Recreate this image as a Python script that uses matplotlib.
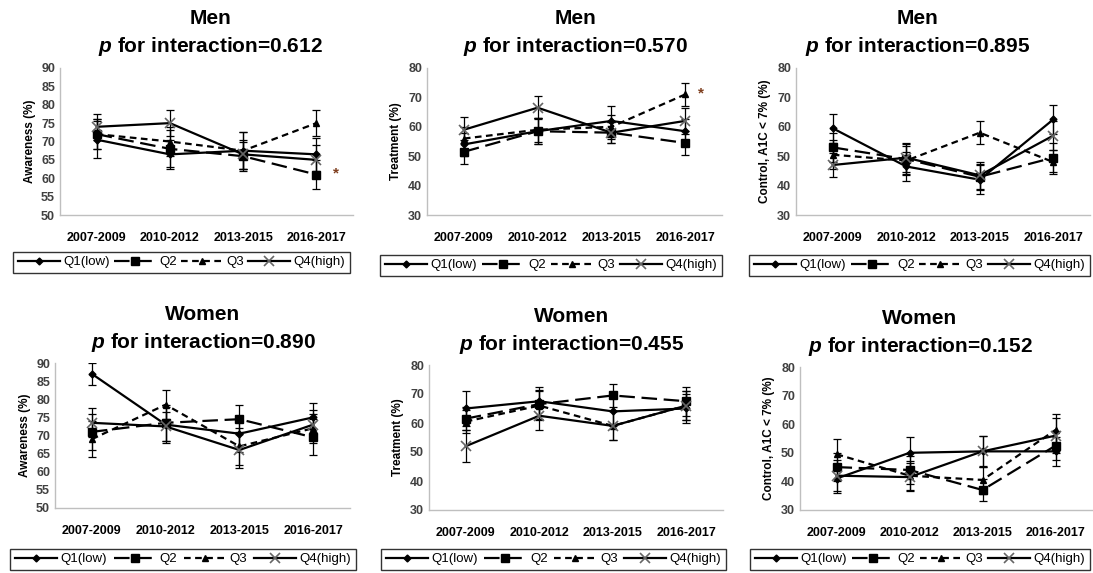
import matplotlib
matplotlib.use("Agg")
import matplotlib.pyplot as plt

plt.rcParams['font.family'] = ['Liberation Sans', 'DejaVu Sans']
plt.rcParams['mathtext.fontset'] = 'custom'
plt.rcParams['mathtext.it'] = 'Liberation Sans:italic:bold'
plt.rcParams['mathtext.rm'] = 'Liberation Sans:bold'

periods = ['2007-2009', '2010-2012', '2013-2015', '2016-2017']
groups = ['Q1(low)', 'Q2', 'Q3', 'Q4(high)']

# values, rows = Q1..Q4
men_aware = [[70.5, 66.5, 67.5, 66.5],
             [72.0, 68.0, 66.0, 61.0],
             [72.0, 70.0, 67.5, 75.0],
             [74.0, 75.0, 66.5, 65.0]]
men_aware_err = [[5, 4, 5, 4.5], [4, 5, 4, 4], [4, 4, 5, 3.5], [3.5, 3.5, 4, 4]]

men_treat = [[54.0, 58.5, 62.0, 58.5],
             [51.5, 58.5, 58.0, 54.5],
             [56.0, 59.0, 60.0, 71.0],
             [59.0, 66.5, 58.0, 62.0]]
men_treat_err = [[4, 4.5, 5, 4], [4, 4.5, 3.5, 4], [4, 4, 4, 4], [4.5, 4, 3.5, 4.5]]

men_ctrl = [[59.5, 46.5, 42.0, 62.5],
            [53.0, 49.0, 43.0, 49.5],
            [50.5, 48.5, 58.0, 48.0],
            [47.0, 49.5, 43.5, 57.0]]
men_ctrl_err = [[5, 5, 5, 5], [5, 5, 4.5, 5], [5, 5, 4, 4], [4, 5, 4.5, 5]]

women_aware = [[87.0, 73.0, 70.5, 75.0],
               [71.0, 73.5, 74.5, 69.5],
               [69.0, 78.5, 67.0, 72.0],
               [73.5, 72.5, 66.0, 73.0]]
women_aware_err = [[3, 5, 5, 4], [5, 5, 4, 5], [5, 4, 5, 4], [4, 4, 5, 4]]

women_treat = [[65.0, 67.5, 64.0, 65.0],
               [61.5, 66.5, 69.5, 67.5],
               [60.5, 66.0, 59.0, 66.0],
               [52.0, 62.5, 59.0, 66.0]]
women_treat_err = [[6, 5, 5, 5], [4, 5, 4, 5], [4, 5, 5, 5], [5.5, 5, 5, 5]]

women_ctrl = [[41.0, 50.0, 50.5, 50.5],
              [45.0, 44.0, 37.0, 52.5],
              [49.5, 42.0, 40.5, 58.0],
              [42.0, 41.5, 50.5, 56.0]]
women_ctrl_err = [[5, 5.5, 5.5, 5], [5, 5, 4, 5], [5.5, 5, 5, 5.5], [5.5, 5, 5.5, 6]]

p_values = ['0.612', '0.570', '0.895', '0.890', '0.455', '0.152']

W, H = 1093, 573
fig = plt.figure(figsize=(W / 100, H / 100), dpi=100)

def fbox(l, t, r, b):
    return [l / W, 1 - b / H, (r - l) / W, (b - t) / H]

styles = [dict(ls='-', marker='D', ms=3.5, mfc='black', mec='black'),
          dict(ls=(0, (7, 3)), marker='s', ms=6, mfc='black', mec='black'),
          dict(ls=(0, (3, 2)), marker='^', ms=5, mfc='black', mec='black'),
          dict(ls='-', marker='x', ms=7, mfc='none', mec='#666666', mew=1.2)]

panels = [
    ('Men', men_aware, men_aware_err, 'Awareness (%)', (50, 90, 5), (60, 68, 353, 215), (13, 249, 350, 273), (210, 18, 47)),
    ('Men', men_treat, men_treat_err, 'Treatment (%)', (30, 80, 10), (427, 68, 722, 215), (380, 249, 722, 276), (575, 18, 47)),
    ('Men', men_ctrl, men_ctrl_err, 'Control, A1C < 7% (%)', (30, 80, 10), (796, 68, 1090, 215), (749, 249, 1090, 276), (918, 18, 47)),
    ('Women', women_aware, women_aware_err, 'Awareness (%)', (50, 90, 5), (55, 363, 350, 508), (10, 544, 356, 570), (203, 315, 342)),
    ('Women', women_treat, women_treat_err, 'Treatment (%)', (30, 80, 10), (429, 365, 723, 510), (381, 544, 726, 570), (572, 316, 344)),
    ('Women', women_ctrl, women_ctrl_err, 'Control, A1C < 7% (%)', (30, 80, 10), (800, 367, 1092, 510), (750, 544, 1090, 570), (920, 318, 346)),
]

x = range(len(periods))
for i, (sex, vals, errs, ylab, (lo, hi, step), box, lbox, tpos) in enumerate(panels):
    ax = fig.add_axes(fbox(*box))
    handles = []
    for k in range(4):
        ax.errorbar(x, vals[k], yerr=errs[k], fmt='none', ecolor='black',
                    elinewidth=0.9, capsize=3, capthick=0.9, zorder=2)
        ln, = ax.plot(x, vals[k], color='black', lw=1.6, label=groups[k], zorder=3, **styles[k])
        handles.append(ln)
    ax.set_xlim(-0.5, 3.5)
    ax.set_ylim(lo, hi)
    ax.set_yticks(range(lo, hi + 1, step))
    ax.set_xticks(list(x))
    ax.set_xticklabels(periods, fontsize=9, fontweight='bold')
    ax.tick_params(axis='both', length=0)
    ax.tick_params(axis='x', pad=12)
    for t in ax.get_yticklabels():
        t.set_fontweight('bold')
        t.set_fontsize(9)
        t.set_color('#404040')
    ax.set_ylabel(ylab, fontsize=8.5, fontweight='bold', labelpad=4)
    for s in ['top', 'right']:
        ax.spines[s].set_visible(False)
    for s in ['left', 'bottom']:
        ax.spines[s].set_color('#bfbfbf')
        ax.spines[s].set_linewidth(1)

    lb = fbox(*lbox)
    leg = fig.legend(handles=handles, loc='lower left', bbox_to_anchor=lb, mode='expand',
                     ncol=4, fontsize=9.5, frameon=True, fancybox=False, edgecolor='black',
                     handlelength=3.2, handletextpad=0.3, columnspacing=0.8,
                     borderaxespad=0, borderpad=0.35)
    leg.get_frame().set_linewidth(1)

    cx, ty1, ty2 = tpos
    fig.text(cx / W, 1 - ty1 / H, sex, ha='center', va='center', fontsize=15, fontweight='bold')
    fig.text(cx / W, 1 - ty2 / H, r'$\mathit{p}$ for interaction=' + p_values[i],
             ha='center', va='center', fontsize=15, fontweight='bold')

# significance marks
fig.axes[0].text(3.27, 61.2, '*', color='#7f3f1f', fontsize=11, fontweight='bold', ha='center', va='center')
fig.axes[1].text(3.22, 71.5, '*', color='#7f3f1f', fontsize=11, fontweight='bold', ha='center', va='center')

fig.savefig('out.png', dpi=100)
